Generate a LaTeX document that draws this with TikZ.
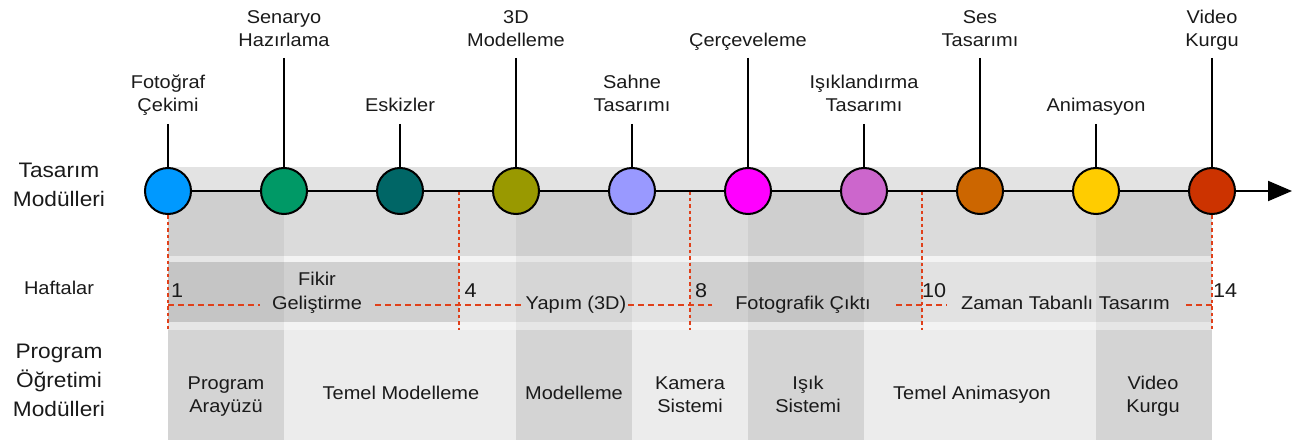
\documentclass[tikz,border=0pt]{standalone}
\usepackage{fontspec}
\setmainfont{Liberation Sans}[FakeStretch=1.08]
\usetikzlibrary{arrows.meta}
\definecolor{cBlue}{HTML}{0099FF}
\definecolor{cGreen}{HTML}{009966}
\definecolor{cTeal}{HTML}{006666}
\definecolor{cOlive}{HTML}{999900}
\definecolor{cLav}{HTML}{9999FF}
\definecolor{cMag}{HTML}{FF00FF}
\definecolor{cOrch}{HTML}{CC66CC}
\definecolor{cOrange}{HTML}{CC6600}
\definecolor{cYellow}{HTML}{FFCC00}
\definecolor{cRed}{HTML}{CC3300}
\definecolor{weekred}{HTML}{E0401A}
\definecolor{bandTop}{HTML}{E3E3E3}
\definecolor{bandMid}{HTML}{DBDBDB}
\definecolor{stripe}{HTML}{F3F3F3}
\definecolor{wkDark}{HTML}{D0D0D0}
\definecolor{wkLight}{HTML}{E2E2E2}
\definecolor{progLight}{HTML}{ECECEC}
\definecolor{progDark}{HTML}{D4D4D4}
\definecolor{ink}{HTML}{1A1A1A}
\begin{document}
\begin{tikzpicture}[x=1pt,y=-1pt,
  lbl/.style={font=\fontsize{18.5}{23}\selectfont, text=ink, align=center, inner sep=0pt, text depth=0pt, anchor=south},
  wlbl/.style={lbl, font=\fontsize{18.5}{24}\selectfont},
  side/.style={lbl, font=\fontsize{21}{29}\selectfont},
  num/.style={font=\fontsize{20}{24}\selectfont, text=ink, inner sep=0pt, text depth=0pt, anchor=south west},
  mod/.style={circle, draw=black, line width=2pt, minimum size=46pt, inner sep=0pt},
  stem/.style={draw=black, line width=2pt},
  tl/.style={draw=black, line width=2pt},
  hd/.style={draw=weekred, line width=1.2pt, dash pattern=on 6pt off 4pt},
  vd/.style={draw=weekred, line width=1.2pt, dash pattern=on 3.5pt off 3pt}]
\useasboundingbox (0,0) rectangle (1296,441);
% bands
\fill[bandTop] (168,167) rectangle (1212,191);
\fill[bandMid] (168,191) rectangle (1212,256);
\fill[stripe] (168,256) rectangle (1212,262);
\fill[wkDark] (168,262) rectangle (459,322);
\fill[wkLight] (459,262) rectangle (690,322);
\fill[wkDark] (690,262) rectangle (922,322);
\fill[wkLight] (922,262) rectangle (1212,322);
\fill[stripe] (168,322) rectangle (1212,330);
\fill[progLight] (168,330) rectangle (1212,440);
\foreach \a/\b in {168/284,516/632,748/864,1096/1212} {
  \fill[black, opacity=0.05] (\a,191) rectangle (\b,330);
  \fill[progDark] (\a,330) rectangle (\b,440);
}
% week boundaries
\draw[vd] (168,215) -- (168,330);
\draw[vd] (459,191) -- (459,330);
\draw[vd] (690,191) -- (690,330);
\draw[vd] (922,191) -- (922,330);
\draw[vd] (1212,215) -- (1212,330);
\draw[hd] (168,305) -- (260,305);
\draw[hd] (375,305) -- (523,305);
\draw[hd] (628,305) -- (712,305);
\draw[hd] (896,305) -- (947,305);
\draw[hd] (1186,305) -- (1212,305);
% circles
\node[mod, fill=cBlue]   (c1)  at (168,191) {};
\node[mod, fill=cGreen]  (c2)  at (284,191) {};
\node[mod, fill=cTeal]   (c3)  at (400,191) {};
\node[mod, fill=cOlive]  (c4)  at (516,191) {};
\node[mod, fill=cLav]    (c5)  at (632,191) {};
\node[mod, fill=cMag]    (c6)  at (748,191) {};
\node[mod, fill=cOrch]   (c7)  at (864,191) {};
\node[mod, fill=cOrange] (c8)  at (980,191) {};
\node[mod, fill=cYellow] (c9)  at (1096,191) {};
\node[mod, fill=cRed]    (c10) at (1212,191) {};
\coordinate (tip) at (1292,191);
\draw[tl] (c1) -- (c2);
\draw[tl] (c2) -- (c3);
\draw[tl] (c3) -- (c4);
\draw[tl] (c4) -- (c5);
\draw[tl] (c5) -- (c6);
\draw[tl] (c6) -- (c7);
\draw[tl] (c7) -- (c8);
\draw[tl] (c8) -- (c9);
\draw[tl] (c9) -- (c10);
\draw[tl, -{Triangle[length=24pt,width=20pt]}] (c10) -- (tip);
% top labels
\node[lbl] (l1)  at (168,112)  {Fotoğraf\\Çekimi};
\node[lbl] (l2)  at (284,47)   {Senaryo\\Hazırlama};
\node[lbl] (l3)  at (400,112)  {Eskizler};
\node[lbl] (l4)  at (516,47)   {3D\\Modelleme};
\node[lbl] (l5)  at (632,112)  {Sahne\\Tasarımı};
\node[lbl] (l6)  at (748,47)   {Çerçeveleme};
\node[lbl] (l7)  at (864,112)  {Işıklandırma\\Tasarımı};
\node[lbl] (l8)  at (980,47)   {Ses\\Tasarımı};
\node[lbl] (l9)  at (1096,112) {Animasyon};
\node[lbl] (l10) at (1212,47)  {Video\\Kurgu};
\foreach \i/\s in {1/12,3/12,5/12,7/12,9/12,2/11,4/11,6/11,8/11,10/11} {
  \draw[stem, shorten <=\s pt] (l\i.south) -- (c\i.north);
}
% side labels
\node[side] (tm) at (59,206.7) {Tasarım\\Modülleri};
\node[lbl]  (hf) at (59,295)   {Haftalar};
\node[side] (pm) at (59,416.7) {Program\\Öğretimi\\Modülleri};
% week labels
\node[wlbl] (w1) at (317,309.3)  {Fikir\\Geliştirme};
\node[wlbl] (w2) at (576,310)    {Yapım (3D)};
\node[wlbl] (w3) at (803,309.3)  {Fotografik Çıktı};
\node[wlbl] (w4) at (1065.5,310) {Zaman Tabanlı Tasarım};
\node[num] (n1)  at (171,297.5)   {1};
\node[num] (n4)  at (464.5,297.5) {4};
\node[num] (n8)  at (695,297.5)   {8};
\node[num] (n10) at (922,297.5)   {10};
\node[num] (n14) at (1213,297.5)  {14};
% program modules
\node[lbl] (b1) at (226,412.7) {Program\\Arayüzü};
\node[lbl] (b2) at (401,400)   {Temel Modelleme};
\node[lbl] (b3) at (574,400)   {Modelleme};
\node[lbl] (b4) at (690,412.7) {Kamera\\Sistemi};
\node[lbl] (b5) at (808,412.7) {Işık\\Sistemi};
\node[lbl] (b6) at (972,400)   {Temel Animasyon};
\node[lbl] (b7) at (1153,412.7) {Video\\Kurgu};
\end{tikzpicture}
\end{document}
